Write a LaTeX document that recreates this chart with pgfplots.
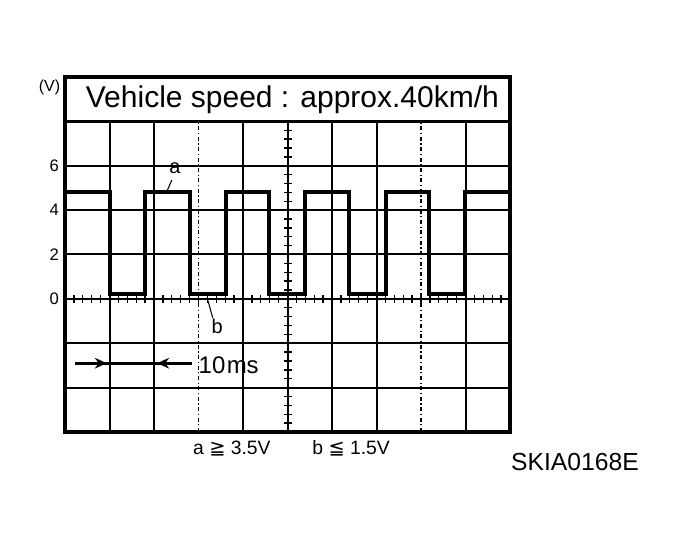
\documentclass[border=0pt]{standalone}
\usepackage{fontspec}
\setmainfont{Liberation Sans}
\newfontfamily\dejavu{DejaVu Sans}
\usepackage{pgfplots}
\pgfplotsset{compat=1.18}
\usetikzlibrary{arrows.meta}

% reference is 679x549 px, 1 px = 0.75pt
\begin{document}
\begin{tikzpicture}
\path[use as bounding box] (0,0) rectangle (509.25pt,411.75pt);

\begin{axis}[
  at={(48.75pt,87.75pt)}, anchor=south west,
  scale only axis, width=333.75pt, height=266.25pt,
  xmin=0, xmax=10, ymin=-6, ymax=10,
  xtick={1,2,4,5,6,7,9}, xticklabels={},
  ytick={-4,-2,0,2,4,6,8}, yticklabels={,,0,2,4,6,},
  yticklabel style={font=\fontsize{12.5}{12.5}\selectfont, xshift=-1pt},
  grid=major, major grid style={black, line width=1.5pt},
  major tick length=0pt,
  axis line style={line width=2.3pt},
  clip=false,
]
% scope trace
\addplot[line width=3pt, line join=miter] coordinates {
  (0,4.8)(1.0,4.8)(1.0,0.2)(1.8,0.2)(1.8,4.8)(2.82,4.8)(2.82,0.2)
  (3.61,0.2)(3.61,4.8)(4.59,4.8)(4.59,0.2)(5.4,0.2)(5.4,4.8)
  (6.39,4.8)(6.39,0.2)(7.21,0.2)(7.21,4.8)(8.19,4.8)(8.19,0.2)
  (8.99,0.2)(8.99,4.8)(10,4.8)};

\draw[line width=0.8pt, dash dot] (axis cs:3,-6) -- (axis cs:3,8);
\draw[line width=0.8pt, dash dot] (axis cs:8,-6) -- (axis cs:8,8);

% title band
\draw[line width=2.3pt, fill=white] (axis cs:0,8) rectangle (axis cs:10,10);
\node[font=\fontsize{22.5}{24}\selectfont] at (axis cs:5.11,8.99) {Vehicle speed : approx.40km/h};
\node[font=\fontsize{12}{12}\selectfont] at (axis cs:-0.35,9.52) {(V)};

% a / b markers
\node[font=\fontsize{15}{15}\selectfont] at (axis cs:2.47,5.89) {a};
\draw[line width=0.8pt] (axis cs:2.29,4.85) -- (axis cs:2.40,5.35);
\node[font=\fontsize{15}{15}\selectfont] at (axis cs:3.42,-1.26) {b};
\draw[line width=0.8pt] (axis cs:3.2,0) -- (axis cs:3.32,-0.85);

% 10 ms span
\draw[line width=2.4pt] (axis cs:0.22,-2.9) -- (axis cs:2.85,-2.9);
\draw[line width=2.4pt, -{Stealth[length=9pt,width=8pt]}] (axis cs:0.22,-2.9) -- (axis cs:0.94,-2.9);
\draw[line width=2.4pt, -{Stealth[length=9pt,width=8pt]}] (axis cs:2.85,-2.9) -- (axis cs:2.07,-2.9);
\node[font=\fontsize{18}{18}\selectfont] at (axis cs:3.68,-2.97) {10\kern1pt ms};

\node[font=\fontsize{14.5}{14.5}\selectfont] at (axis cs:3.75,-6.74) {a {\dejavu ≧} 3.5V};
\node[font=\fontsize{14.5}{14.5}\selectfont] at (axis cs:6.43,-6.74) {b {\dejavu ≦} 1.5V};
\node[font=\fontsize{18.5}{18.5}\selectfont] at (axis cs:11.46,-7.37) {SKIA0168E};
\end{axis}

% centre lines with their fine division ticks
\begin{axis}[
  at={(48.75pt,87.75pt)}, anchor=south west,
  scale only axis, width=333.75pt, height=232.97pt,
  xmin=-5, xmax=5, ymin=-6, ymax=8,
  axis lines=middle,
  axis line style={-, line width=1.5pt},
  every inner x axis line/.append style={-},
  every inner y axis line/.append style={-},
  xtick={-5,...,5}, ytick={-6,-4,...,8},
  xticklabels={}, yticklabels={},
  minor x tick num=4, minor y tick num=4,
  tick align=center, major tick length=7pt, minor tick length=6pt,
  tick style={black, line width=1pt},
]
\end{axis}
\end{tikzpicture}
\end{document}
